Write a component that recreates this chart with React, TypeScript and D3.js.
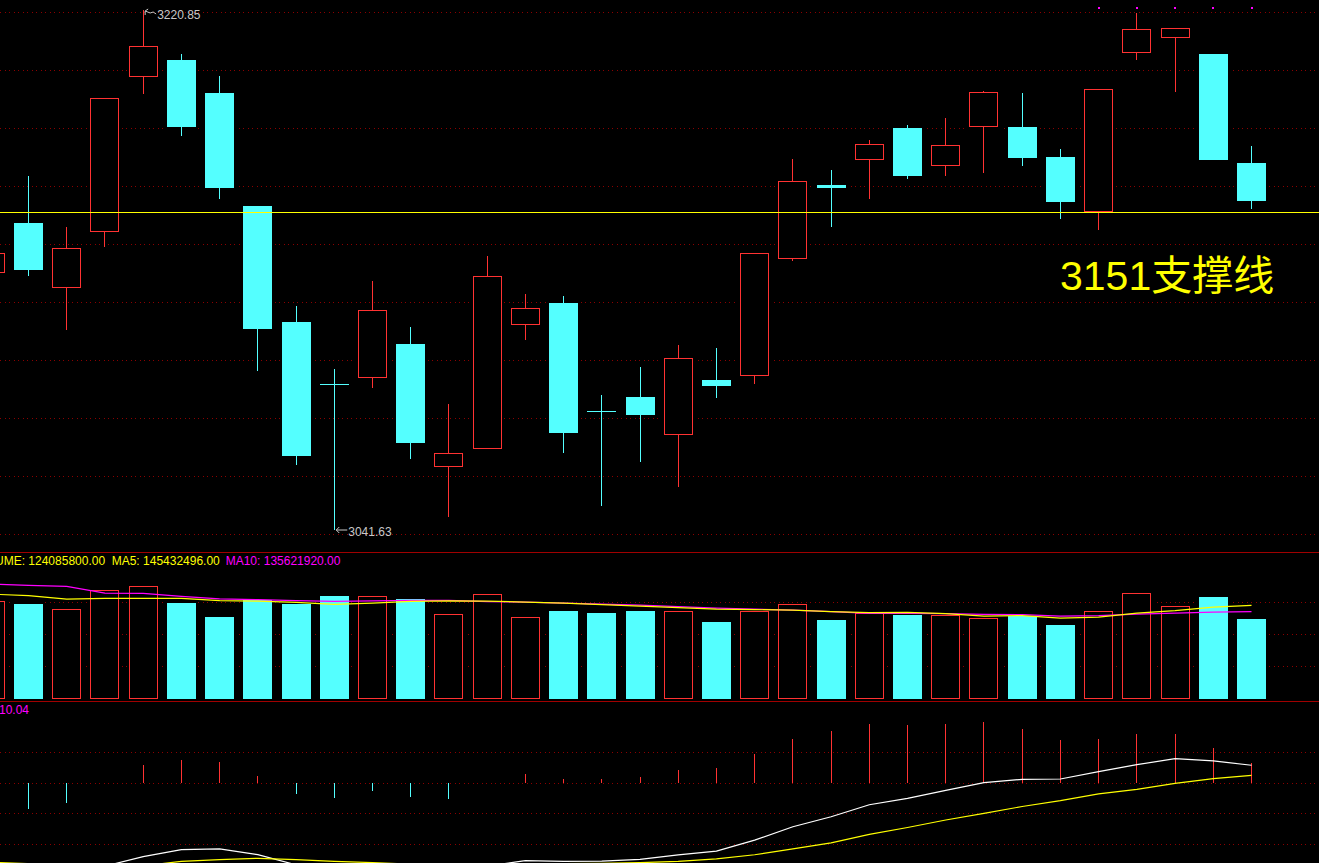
import React from 'react';
import * as d3 from 'd3';

const W = 1319;
const H = 863;

// candle index 0 is the partially visible one at the left edge
const opens = [3130.21, 3147.44, 3125.38, 3144.68, 3197.76, 3203.62, 3192.24, 3153.30, 3113.32, 3091.95, 3094.36, 3105.74, 3063.52, 3069.79, 3112.53, 3119.87, 3082.65, 3087.47, 3074.61, 3093.33, 3094.95, 3135.27, 3160.43, 3169.39, 3180.18, 3167.33, 3180.77, 3180.53, 3170.19, 3151.23, 3206.27, 3211.44, 3205.69, 3168.12];
const highs = [3138.82, 3163.64, 3146.06, 3190.52, 3220.85, 3205.69, 3198.10, 3153.30, 3118.83, 3097.12, 3127.45, 3111.60, 3085.06, 3136.07, 3122.97, 3122.28, 3088.16, 3097.81, 3105.39, 3104.36, 3136.76, 3169.50, 3165.71, 3176.05, 3181.22, 3183.63, 3192.93, 3192.24, 3172.94, 3193.52, 3219.82, 3214.54, 3205.69, 3173.98];
const lows = [3127.79, 3129.17, 3110.56, 3139.17, 3191.90, 3177.42, 3155.71, 3096.43, 3064.14, 3041.63, 3090.57, 3066.21, 3046.22, 3069.79, 3107.22, 3068.27, 3050.01, 3065.17, 3056.56, 3087.23, 3092.05, 3134.45, 3146.16, 3155.81, 3162.71, 3163.74, 3164.78, 3167.19, 3148.92, 3145.13, 3203.72, 3192.69, 3169.26, 3152.37];
const closes = [3136.76, 3131.24, 3138.48, 3190.52, 3208.44, 3180.53, 3159.33, 3110.91, 3067.24, 3091.85, 3117.11, 3071.72, 3068.07, 3129.17, 3118.04, 3075.17, 3082.55, 3081.37, 3100.81, 3091.37, 3136.76, 3161.81, 3159.61, 3174.56, 3163.74, 3174.22, 3192.49, 3169.95, 3154.78, 3193.52, 3214.20, 3214.54, 3169.26, 3155.13];

// volumes in millions of shares
const volumes = [151.71, 147.50, 139.22, 168.88, 175.12, 149.06, 127.21, 153.74, 147.50, 159.98, 159.51, 155.30, 131.42, 163.10, 127.21, 136.57, 133.45, 136.57, 136.57, 119.40, 136.57, 147.50, 122.52, 132.98, 130.33, 129.86, 125.18, 128.77, 114.72, 136.10, 164.20, 143.91, 158.42, 124.0858];
const volMA5 = [163.10, 160.76, 155.30, 156.39, 156.39, 156.39, 152.96, 152.18, 150.15, 147.03, 149.06, 151.71, 152.65, 152.18, 150.62, 149.06, 146.72, 144.37, 142.03, 139.69, 138.91, 138.13, 135.79, 134.23, 134.54, 132.67, 128.77, 129.55, 125.64, 127.21, 133.45, 137.35, 142.81, 145.432496];
const volMA10 = [178.71, 176.68, 175.12, 164.66, 164.20, 159.51, 155.61, 154.52, 152.96, 151.71, 152.49, 153.27, 153.27, 151.40, 150.62, 149.06, 147.50, 145.93, 143.59, 141.25, 139.69, 138.13, 135.79, 132.98, 132.98, 132.67, 131.42, 131.11, 128.77, 129.55, 131.89, 133.45, 135.01, 135.62192];

const dif = [-44.33, -46.01, -45.27, -40.89, -36.21, -32.76, -32.41, -35.22, -40.25, -42.12, -41.08, -43.25, -44.73, -40.89, -38.18, -38.57, -38.42, -37.59, -35.32, -33.50, -28.08, -21.53, -16.60, -10.69, -7.54, -3.60, 0.15, 1.82, 1.97, 5.57, 9.01, 11.97, 10.84, 8.72];
const dea = [-38.92, -39.66, -40.39, -40.89, -40.74, -38.52, -37.64, -37.04, -37.64, -38.52, -39.16, -39.90, -40.89, -40.89, -40.49, -39.61, -39.51, -39.16, -38.57, -37.29, -35.30, -32.44, -29.48, -25.30, -21.90, -18.20, -14.95, -11.55, -8.69, -5.34, -3.13, -0.17, 2.14, 3.72];
const macdHist = [-10.8, -12.66, -9.70, -0.2, 9.01, 11.48, 10.49, 3.60, -5.27, -7.24, -3.79, -6.75, -7.73, 0.2, 4.58, 2.12, 2.12, 3.10, 6.55, 7.54, 14.43, 21.82, 25.76, 29.21, 28.72, 29.21, 30.20, 26.75, 21.33, 21.82, 24.29, 24.29, 17.39, 10.04];

const priceTicks = [3040, 3060, 3080, 3100, 3120, 3140, 3160, 3180, 3200, 3220];
const volTicks = [50, 100, 150];
const macdTicks = [15, 0, -15, -30];
const supportLevel = 3151;
const supportText = '支撑线';
const highMark = 3220.85;
const lowMark = 3041.63;
const markerCandles = [29, 30, 31, 32, 33];

const RED = '#ff3232';
const CYAN = '#54ffff';
const GRID = '#8c0000';
const SEP = '#a00000';
const YELLOW = '#ffff00';
const MAGENTA = '#ff00ff';
const FONT = "'Liberation Sans', Arial, sans-serif";

export default function App() {
  const n = opens.length;
  const x = d3.scaleLinear().domain([1, 33]).range([28.5, 1251.5]);
  const yP = d3.scaleLinear().domain([lowMark, highMark]).range([530, 10]);
  const yV = d3.scaleLinear().domain([0, 150]).range([698.7, 602.5]);
  const yM = d3.scaleLinear().domain([-30, 15]).range([844, 752.5]);
  const bw = 29;
  const r5 = (v: number) => Math.round(v - 0.5) + 0.5;

  const idx = d3.range(n);
  const lineV = (arr: number[]) => d3.line<number>().x((_, i) => x(i)).y(d => yV(d))(arr) || '';
  const lineM = (arr: number[]) => d3.line<number>().x((_, i) => x(i)).y(d => yM(d))(arr) || '';

  const up = (i: number) => closes[i] > opens[i];

  return (
    <div style={{ position: 'fixed', left: 0, top: 0, width: W, height: H, background: '#000' }}>
      <svg width={W} height={H} style={{ display: 'block', background: '#000' }}>
        <defs>
          <clipPath id="main"><rect x={0} y={0} width={W} height={551} /></clipPath>
          <clipPath id="vol"><rect x={0} y={553} width={W} height={147} /></clipPath>
          <clipPath id="macd"><rect x={0} y={702} width={W} height={H - 702} /></clipPath>
        </defs>

        {/* grids */}
        <g shapeRendering="crispEdges">
          {priceTicks.map(t => (
            <line key={t} x1={0} x2={W} y1={r5(yP(t))} y2={r5(yP(t))} stroke={GRID} strokeDasharray="1 3.5" />
          ))}
          {volTicks.map(t => (
            <line key={t} x1={0} x2={W} y1={r5(yV(t))} y2={r5(yV(t))} stroke={GRID} strokeDasharray="1 3.5" />
          ))}
          {macdTicks.map(t => (
            <line key={t} x1={0} x2={W} y1={r5(yM(t))} y2={r5(yM(t))} stroke={GRID} strokeDasharray="1 3.5" />
          ))}
        </g>

        {/* candles */}
        <g clipPath="url(#main)" shapeRendering="crispEdges">
          {idx.map(i => {
            const cx = x(i);
            const o = yP(opens[i]);
            const c = yP(closes[i]);
            const h = yP(highs[i]);
            const l = yP(lows[i]);
            const top = Math.min(o, c);
            const bot = Math.max(o, c);
            if (up(i)) {
              const t = r5(top);
              const b = r5(bot);
              return (
                <g key={i}>
                  <rect x={cx - bw / 2 - 2} y={t - 2} width={bw + 4} height={b - t + 4} fill="#000" />
                  {h < t && <line x1={cx} x2={cx} y1={Math.round(h)} y2={t} stroke={RED} />}
                  {l > b && <line x1={cx} x2={cx} y1={b} y2={Math.round(l)} stroke={RED} />}
                  <rect x={cx - bw / 2 + 0.5} y={t} width={bw - 1} height={b - t} fill="#000" stroke={RED} />
                </g>
              );
            }
            const t = Math.round(top);
            const b = Math.max(Math.round(bot), t + 1);
            return (
              <g key={i}>
                <rect x={cx - bw / 2 - 2} y={t - 2} width={bw + 4} height={b - t + 4} fill="#000" />
                <line x1={cx} x2={cx} y1={Math.round(h)} y2={Math.round(l)} stroke={CYAN} />
                <rect x={cx - bw / 2} y={t} width={bw} height={b - t} fill={CYAN} />
              </g>
            );
          })}
        </g>

        {/* support line */}
        <line x1={0} x2={W} y1={r5(yP(supportLevel))} y2={r5(yP(supportLevel))} stroke={YELLOW} shapeRendering="crispEdges" />
        <text x={1060} y={290} fill={YELLOW} fontSize={41} fontFamily={"'Liberation Sans', Arial, 'Noto Sans CJK SC', sans-serif"}>
          {`${supportLevel}${supportText}`}
        </text>

        {/* high / low annotations */}
        {(() => {
          const hi = highs.indexOf(highMark);
          const lo = lows.indexOf(lowMark);
          const hx = x(hi) + 1;
          const hy = yP(highMark);
          const lx = x(lo) + 1;
          const ly = yP(lowMark);
          return (
            <g stroke="#c8c8c8" fill="none" strokeWidth={1}>
              <path d={`M${hx + 1},${hy + 1} L${hx + 4},${hy - 1} M${hx + 1},${hy + 1} L${hx + 1},${hy + 5} M${hx + 1},${hy + 1} L${hx + 6},${hy + 3} L${hx + 9},${hy + 2} L${hx + 12},${hy + 4}`} />
              <text x={hx + 13} y={hy + 9} fill="#c8c8c8" stroke="none" fontSize={12} fontFamily={FONT}>{highMark.toFixed(2)}</text>
              <path d={`M${lx + 1},${ly} L${lx + 12},${ly} M${lx + 1},${ly} L${lx + 4},${ly - 3} M${lx + 1},${ly} L${lx + 4},${ly + 3}`} />
              <text x={lx + 13} y={ly + 6} fill="#c8c8c8" stroke="none" fontSize={12} fontFamily={FONT}>{lowMark.toFixed(2)}</text>
            </g>
          );
        })()}

        {/* markers */}
        {markerCandles.map(i => (
          <rect key={i} x={Math.round(x(i)) - 1} y={7} width={2} height={2} fill={MAGENTA} />
        ))}

        {/* separators */}
        <line x1={0} x2={W} y1={552.5} y2={552.5} stroke={SEP} shapeRendering="crispEdges" />
        <line x1={0} x2={W} y1={701.5} y2={701.5} stroke={SEP} shapeRendering="crispEdges" />

        {/* volume */}
        <g clipPath="url(#vol)" shapeRendering="crispEdges">
          {idx.map(i => {
            const cx = x(i);
            const t = yV(volumes[i]);
            const z = yV(0);
            if (up(i)) {
              const tt = r5(t);
              const zz = r5(z);
              return (
                <g key={i}>
                  <rect x={cx - bw / 2 - 2} y={tt - 2} width={bw + 4} height={zz - tt + 4} fill="#000" />
                  <rect x={cx - bw / 2 + 0.5} y={tt} width={bw - 1} height={zz - tt} fill="#000" stroke={RED} />
                </g>
              );
            }
            return (
              <g key={i}>
                <rect x={cx - bw / 2 - 2} y={Math.round(t) - 2} width={bw + 4} height={Math.round(z) - Math.round(t) + 4} fill="#000" />
                <rect x={cx - bw / 2} y={Math.round(t)} width={bw} height={Math.round(z) - Math.round(t)} fill={CYAN} />
              </g>
            );
          })}
        </g>
        <g clipPath="url(#vol)" fill="none">
          <path d={lineV(volMA10)} stroke={MAGENTA} strokeWidth={1.2} />
          <path d={lineV(volMA5)} stroke={YELLOW} strokeWidth={1.2} />
        </g>
        <text y={565} fontSize={12} fontFamily={FONT}>
          <tspan x={-29} fill={YELLOW}>{`VOLUME: ${(volumes[n - 1] * 1e6).toFixed(2)}`}</tspan>
          <tspan x={111.7} fill={YELLOW}>{`MA5: ${(volMA5[n - 1] * 1e6).toFixed(2)}`}</tspan>
          <tspan x={225.7} fill={MAGENTA}>{`MA10: ${(volMA10[n - 1] * 1e6).toFixed(2)}`}</tspan>
        </text>

        {/* MACD */}
        <g clipPath="url(#macd)">
          <g shapeRendering="crispEdges">
            {idx.map(i => {
              const v = macdHist[i];
              return (
                <line key={i} x1={x(i)} x2={x(i)} y1={yM(0)} y2={yM(v)} stroke={v >= 0 ? RED : CYAN} />
              );
            })}
          </g>
          <path d={lineM(dif)} stroke="#ffffff" fill="none" strokeWidth={1.2} />
          <path d={lineM(dea)} stroke={YELLOW} fill="none" strokeWidth={1.2} />
        </g>
        <text x={-1} y={714} fill={MAGENTA} fontSize={12} fontFamily={FONT}>{macdHist[n - 1].toFixed(2)}</text>
      </svg>
    </div>
  );
}
